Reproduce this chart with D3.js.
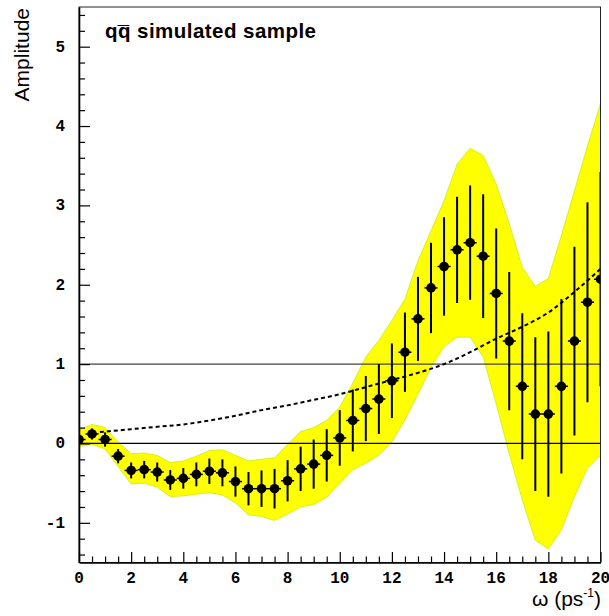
<!DOCTYPE html>
<html>
<head>
<meta charset="utf-8">
<script src="https://cdn.jsdelivr.net/npm/d3@7"></script>
<style>
  body { margin: 0; background: #fff; }
  svg { display: block; }
</style>
</head>
<body>
<div id="chart"></div>
<script>
// omega points (ps^-1)
var omega = [0, 0.5, 1, 1.5, 2, 2.5, 3, 3.5, 4, 4.5, 5, 5.5, 6, 6.5, 7, 7.5, 8, 8.5, 9, 9.5,
             10, 10.5, 11, 11.5, 12, 12.5, 13, 13.5, 14, 14.5, 15, 15.5, 16, 16.5, 17, 17.5, 18, 18.5, 19, 19.5, 20];

var amplitude = [0.05, 0.12, 0.05, -0.16, -0.34, -0.33, -0.36, -0.46, -0.44, -0.39, -0.35, -0.37, -0.48, -0.57, -0.57, -0.57,
                 -0.47, -0.32, -0.26, -0.15, 0.07, 0.29, 0.44, 0.56, 0.79, 1.15, 1.57, 1.96, 2.23, 2.44, 2.53, 2.36,
                 1.89, 1.29, 0.72, 0.37, 0.37, 0.72, 1.29, 1.78, 2.07];

var ampErr = [0.06, 0.07, 0.09, 0.09, 0.1, 0.11, 0.12, 0.125, 0.13, 0.15, 0.16, 0.17, 0.19, 0.21, 0.23, 0.25,
              0.26, 0.28, 0.31, 0.33, 0.35, 0.39, 0.41, 0.44, 0.47, 0.5, 0.53, 0.57, 0.62, 0.67, 0.72, 0.78,
              0.82, 0.87, 0.92, 0.97, 1.04, 1.1, 1.19, 1.26, 1.35];

// yellow band edges
var bandHigh = [0.17, 0.24, 0.2, 0.02, -0.13, -0.12, -0.15, -0.24, -0.22, -0.16, -0.09, -0.08, -0.15, -0.22, -0.2, -0.18,
                -0.01, 0.15, 0.2, 0.29, 0.46, 0.76, 1.09, 1.3, 1.55, 1.82, 2.3, 2.68, 3.06, 3.52, 3.72, 3.63,
                3.27, 2.77, 2.22, 1.98, 2.08, 2.62, 3.18, 3.75, 4.28];
var bandLow = [-0.04, -0.01, -0.07, -0.29, -0.51, -0.5, -0.55, -0.67, -0.66, -0.64, -0.62, -0.65, -0.75, -0.9, -0.92, -0.97,
               -0.89, -0.8, -0.77, -0.68, -0.5, -0.33, -0.25, -0.15, 0.02, 0.3, 0.62, 0.96, 1.22, 1.34, 1.34, 1.09,
               0.5, -0.13, -0.71, -1.22, -1.33, -1.09, -0.67, -0.31, -0.15];

// dashed expectation curve
var curveOmega = [0.8, 1, 2, 3, 4, 5, 6, 7, 8, 9, 10, 11, 12, 13, 14, 15, 16, 17, 18, 19, 20];
var curveAmp = [0.145, 0.15, 0.18, 0.21, 0.24, 0.29, 0.35, 0.42, 0.48, 0.55, 0.62, 0.71, 0.8, 0.89, 1.0, 1.15, 1.32, 1.47, 1.65, 1.91, 2.2];

var refLines = [0, 1];
var xTicks = [0, 2, 4, 6, 8, 10, 12, 14, 16, 18, 20];
var yTicks = [-1, 0, 1, 2, 3, 4, 5];

var W = 609, H = 616;
var svg = d3.select("#chart").append("svg").attr("width", W).attr("height", H);

var x = d3.scaleLinear().domain([0, 20]).range([79, 600.5]);
var y = d3.scaleLinear().domain([-1.5, 5.5]).range([562.5, 7]);

svg.append("defs").append("clipPath").attr("id", "plot")
    .append("rect").attr("x", x(0)).attr("y", y(5.5)).attr("width", x(20) - x(0)).attr("height", y(-1.5) - y(5.5));

var g = svg.append("g").attr("clip-path", "url(#plot)");

var band = d3.area()
    .x(function(d, i) { return x(omega[i]); })
    .y0(function(d, i) { return y(bandLow[i]); })
    .y1(function(d, i) { return y(bandHigh[i]); });

g.append("path").datum(omega)
    .attr("d", band)
    .attr("fill", "#ffff00")
    .attr("stroke", "#c8f000")
    .attr("stroke-width", 0.8);

g.selectAll("line.ref").data(refLines).enter().append("line")
    .attr("class", "ref")
    .attr("x1", x(0)).attr("x2", x(20))
    .attr("y1", function(d) { return y(d); }).attr("y2", function(d) { return y(d); })
    .attr("stroke", function(d) { return d == 0 ? "#000" : "#444"; })
    .attr("stroke-width", 1.2);

var dash = d3.line()
    .x(function(d, i) { return x(curveOmega[i]); })
    .y(function(d) { return y(d); })
    .curve(d3.curveMonotoneX);

g.append("path").datum(curveAmp)
    .attr("d", dash)
    .attr("fill", "none")
    .attr("stroke", "#000")
    .attr("stroke-width", 2)
    .attr("stroke-dasharray", "4,3");

// error bars
g.selectAll("line.ey").data(omega).enter().append("line")
    .attr("class", "ey")
    .attr("x1", function(d) { return x(d); }).attr("x2", function(d) { return x(d); })
    .attr("y1", function(d, i) { return y(amplitude[i] - ampErr[i]); })
    .attr("y2", function(d, i) { return y(amplitude[i] + ampErr[i]); })
    .attr("stroke", "#000").attr("stroke-width", 2);

g.selectAll("line.ex").data(omega).enter().append("line")
    .attr("class", "ex")
    .attr("x1", function(d) { return x(d - 0.25); }).attr("x2", function(d) { return x(d + 0.25); })
    .attr("y1", function(d, i) { return y(amplitude[i]); })
    .attr("y2", function(d, i) { return y(amplitude[i]); })
    .attr("stroke", "#000").attr("stroke-width", 1.5);

g.selectAll("circle").data(omega).enter().append("circle")
    .attr("cx", function(d) { return x(d); })
    .attr("cy", function(d, i) { return y(amplitude[i]); })
    .attr("r", 4.8)
    .attr("fill", "#000");

// frame
svg.append("rect")
    .attr("x", x(0)).attr("y", y(5.5)).attr("width", x(20) - x(0)).attr("height", y(-1.5) - y(5.5))
    .attr("fill", "none").attr("stroke", "#222").attr("stroke-width", 1);

// axes
var xAxis = svg.append("g").attr("transform", "translate(0," + y(-1.5) + ")")
    .call(d3.axisBottom(x).tickValues(d3.range(0, 20.01, 0.5)).tickSizeInner(-6).tickSizeOuter(0).tickFormat(""));
xAxis.selectAll(".tick line").filter(function(d) { return xTicks.indexOf(d) >= 0; }).attr("y2", -10.5);
xAxis.select(".domain").attr("stroke-width", 1.6);
xAxis.selectAll(".tick line").attr("stroke-width", 1.2);

var yAxis = svg.append("g").attr("transform", "translate(" + x(0) + ",0)")
    .call(d3.axisLeft(y).tickValues(d3.range(-1.4, 5.41, 0.2).map(function(v) { return Math.round(v * 10) / 10; }))
          .tickSizeInner(-6).tickSizeOuter(0).tickFormat(""));
yAxis.selectAll(".tick line").filter(function(d) { return yTicks.indexOf(d) >= 0; }).attr("x2", 11);
yAxis.select(".domain").attr("stroke-width", 1.6);
yAxis.selectAll(".tick line").attr("stroke-width", 1.2);

var labFont = "'Liberation Mono', 'Courier New', monospace";

svg.selectAll("text.xl").data(xTicks).enter().append("text")
    .attr("class", "xl")
    .attr("x", function(d) { return x(d); })
    .attr("y", 583)
    .attr("text-anchor", "middle")
    .style("font-family", labFont).style("font-weight", "bold").style("font-size", "16px")
    .text(function(d) { return d; });

svg.selectAll("text.yl").data(yTicks).enter().append("text")
    .attr("class", "yl")
    .attr("x", 65)
    .attr("y", function(d) { return y(d) + 5; })
    .attr("text-anchor", "end")
    .style("font-family", labFont).style("font-weight", "bold").style("font-size", "16px")
    .text(function(d) { return d < 0 ? "-" + Math.abs(d) : d; });

var sans = "'Liberation Sans', Arial, Helvetica, sans-serif";

svg.append("text")
    .attr("transform", "translate(29,8) rotate(-90)")
    .attr("text-anchor", "end")
    .style("font-family", sans).style("font-size", "21px")
    .text("Amplitude");

var xt = svg.append("text")
    .attr("x", 601).attr("y", 606)
    .attr("text-anchor", "end")
    .style("font-family", sans).style("font-size", "21px");
xt.append("tspan").text("\u03c9 (ps");
xt.append("tspan").attr("dy", -9).style("font-size", "12px").text("-1");
xt.append("tspan").attr("dy", 9).text(")");

var title = svg.append("text")
    .attr("x", 105).attr("y", 38)
    .attr("textLength", 211).attr("lengthAdjust", "spacing")
    .style("font-family", sans).style("font-weight", "bold").style("font-size", "20.5px");
title.append("tspan").text("q");
title.append("tspan").text("q\u0305");
title.append("tspan").text(" simulated sample");
</script>
</body>
</html>
